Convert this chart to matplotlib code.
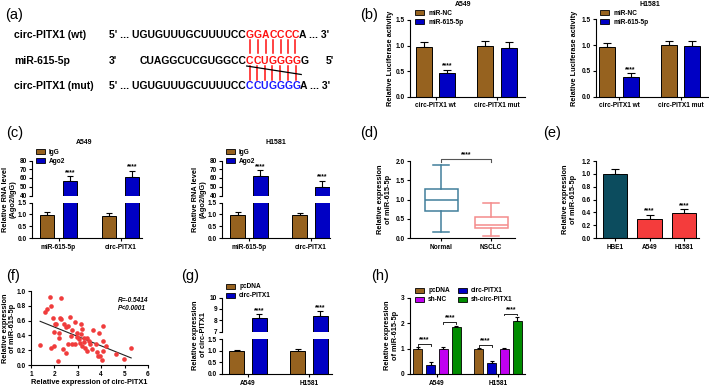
import numpy as np
import matplotlib
matplotlib.use('Agg')
import matplotlib.pyplot as plt
from matplotlib.patches import Patch
from matplotlib.ticker import FormatStrFormatter

W, H = 709, 390
plt.rcParams['font.family'] = ['Liberation Sans', 'DejaVu Sans']
plt.rcParams['font.weight'] = 'bold'
plt.rcParams['axes.labelweight'] = 'bold'
plt.rcParams['axes.linewidth'] = 0.8
for a in ('xtick', 'ytick'):
    plt.rcParams[a + '.major.width'] = 0.8
    plt.rcParams[a + '.major.size'] = 2.5
    plt.rcParams[a + '.labelsize'] = 4.7
plt.rcParams['xtick.major.pad'] = 1.5
plt.rcParams['ytick.major.pad'] = 1.0

LAB, STAR, LEG, TITLE = 5.3, 4.8, 4.7, 5.0
BROWN = '#96621f'; BLUE = '#0000c4'; MAGENTA = '#c000f0'; GREEN = '#008c00'
TEAL = '#0c4c5e'; RED = '#f43c3c'; NORM_C = '#417f9b'; NSCLC_C = '#f48c8c'; SCAT = '#f03c3c'

# ---------------- data ----------------
b_groups = ['circ-PITX1 wt', 'circ-PITX1 mut']
b_series = ['miR-NC', 'miR-615-5p']
b_a549_nc = [0.98, 0.99]; b_a549_nc_err = [0.09, 0.09]
b_a549_mir = [0.47, 0.96]; b_a549_mir_err = [0.06, 0.10]
b_h1581_nc = [0.97, 1.00]; b_h1581_nc_err = [0.08, 0.07]
b_h1581_mir = [0.38, 0.99]; b_h1581_mir_err = [0.07, 0.09]

c_groups = ['miR-615-5p', 'circ-PITX1']
c_series = ['IgG', 'Ago2']
c_a549_igg = [0.98, 0.95]; c_a549_igg_err = [0.10, 0.10]
c_a549_ago2 = [56.5, 61.5]; c_a549_ago2_err = [6.0, 7.0]
c_h1581_igg = [0.99, 0.99]; c_h1581_igg_err = [0.09, 0.07]
c_h1581_ago2 = [62.0, 49.5]; c_h1581_ago2_err = [7.0, 7.5]

d_groups = ['Normal', 'NSCLC']
d_whislo = [0.16, 0.04]
d_q1 = [0.71, 0.27]
d_med = [1.00, 0.35]
d_q3 = [1.27, 0.54]
d_whishi = [1.90, 0.92]

e_cells = ['HBE1', 'A549', 'H1581']
e_mean = [1.00, 0.30, 0.39]
e_err = [0.07, 0.065, 0.065]

f_x = [1.80, 2.28, 1.87, 1.68, 1.61, 1.94, 2.26, 2.27, 2.67, 2.01, 2.08, 2.41, 2.86, 2.59, 3.13,
       1.98, 2.19, 2.48, 2.74, 2.96, 3.18, 3.65, 4.07, 3.90, 2.70, 2.96, 3.03, 3.15, 3.25, 3.39,
       3.47, 3.10, 3.17, 3.32, 2.88, 2.57, 2.77, 2.20, 1.39, 1.84, 1.98, 2.38, 2.49, 2.16, 3.54,
       3.76, 4.07, 4.22, 3.83, 3.97, 4.07, 3.87, 4.02, 4.65, 4.99, 5.28, 3.39, 3.61, 3.25]
f_y = [0.92, 0.90, 0.80, 0.76, 0.71, 0.63, 0.64, 0.62, 0.65, 0.55, 0.56, 0.56, 0.58, 0.53, 0.56,
       0.44, 0.43, 0.51, 0.47, 0.43, 0.48, 0.47, 0.53, 0.43, 0.39, 0.38, 0.35, 0.42, 0.37, 0.36,
       0.32, 0.30, 0.26, 0.23, 0.29, 0.29, 0.29, 0.36, 0.27, 0.23, 0.26, 0.22, 0.16, 0.05, 0.28,
       0.28, 0.33, 0.26, 0.18, 0.12, 0.19, 0.12, 0.07, 0.15, 0.08, 0.23, 0.19, 0.21, 0.31]
f_r_text = 'R=-0.5414'
f_p_text = 'P<0.0001'

g_groups = ['A549', 'H1581']
g_series = ['pcDNA', 'circ-PITX1']
g_pcdna = [0.97, 1.00]; g_pcdna_err = [0.08, 0.07]
g_circ = [8.20, 8.40]; g_circ_err = [0.35, 0.40]

h_groups = ['A549', 'H1581']
h_series = ['pcDNA', 'circ-PITX1', 'sh-NC', 'sh-circ-PITX1']
h_pcdna = [1.00, 0.97]; h_pcdna_err = [0.06, 0.05]
h_circ = [0.37, 0.45]; h_circ_err = [0.10, 0.07]
h_shnc = [1.00, 0.98]; h_shnc_err = [0.06, 0.05]
h_shcirc = [1.85, 2.08]; h_shcirc_err = [0.06, 0.16]

seq_wt = ['5\' ... UGUGUUUGCUUUUCC', 'GGACCCC', 'A ... 3\'']
seq_mir = ['CUAGGCUCGUGGCC', 'CCUGGGG', 'G']
seq_mut = ['5\' ... UGUGUUUGCUUUUCC', 'CCUGGGG', 'A ... 3\'']

# ---------------- figure ----------------
fig = plt.figure(figsize=(W / 100, H / 100), dpi=100)
ov = fig.add_axes([0, 0, 1, 1])
ov.set_xlim(0, W); ov.set_ylim(H, 0); ov.axis('off')
renderer = fig.canvas.get_renderer()


def axpx(l, t, r, b):
    ax = fig.add_axes([l / W, 1 - b / H, (r - l) / W, (b - t) / H])
    ax.spines['top'].set_visible(False)
    ax.spines['right'].set_visible(False)
    ax.tick_params(direction='out')
    ax.patch.set_alpha(0)
    return ax


def ylab(text, xc, yc):
    ov.text(xc, yc, text, rotation=90, ha='center', va='center', fontsize=LAB, linespacing=1.1)


def title(text, xc, yc):
    ov.text(xc, yc, text, ha='center', va='center', fontsize=TITLE)


def plabel(s, x, y):
    ov.text(x, y, s, fontsize=10.5, fontweight='normal', ha='left', va='center')


def errb(ax, x, y, e, cap):
    ax.errorbar(x, y, yerr=[np.zeros(len(e)), e], fmt='none', ecolor='k',
                elinewidth=0.8, capsize=cap, capthick=0.8, zorder=1)


def stars(ax, x, y):
    ax.text(x, y, '****', ha='center', va='bottom', fontsize=STAR, clip_on=False)


def leg(ax, colors, labels, x, y, ncol=1, colsp=1.0):
    hs = [Patch(facecolor=c, edgecolor='k', linewidth=0.6) for c in colors]
    ax.legend(hs, labels, loc='upper left', bbox_to_anchor=(x / W, 1 - y / H),
              bbox_transform=fig.transFigure, frameon=False, fontsize=LEG,
              handlelength=1.4, handleheight=0.75, handletextpad=0.6, labelspacing=0.3,
              borderpad=0, borderaxespad=0, ncol=ncol, columnspacing=colsp)


# ---------------- (a) sequences ----------------
plabel('(a)', 5, 15)
ROW = [35, 61, 86]
RED_X = 246
SEQ_FS = 7.5
for y, lab in zip(ROW, ['circ-PITX1 (wt)', 'miR-615-5p', 'circ-PITX1 (mut)']):
    ov.text(14, y, lab, fontsize=SEQ_FS, ha='left', va='center')


def seq_row(y, pieces, colcolor):
    ov.text(RED_X, y, pieces[0], fontsize=SEQ_FS, ha='right', va='center')
    x = RED_X
    centers = []
    for ch in pieces[1]:
        t = ov.text(x, y, ch, fontsize=SEQ_FS, ha='left', va='center', color=colcolor)
        w = t.get_window_extent(renderer).width
        centers.append(x + w / 2)
        x += w
    ov.text(x, y, pieces[2], fontsize=SEQ_FS, ha='left', va='center')
    return centers


c_wt = seq_row(ROW[0], seq_wt, '#ff1010')
ov.text(109, ROW[1], "3'", fontsize=SEQ_FS, ha='left', va='center')
c_mir = seq_row(ROW[1], seq_mir, '#ff1010')
ov.text(326, ROW[1], "5'", fontsize=SEQ_FS, ha='left', va='center')
c_mut = seq_row(ROW[2], seq_mut, '#1a1aff')
for cx in c_wt:
    ov.plot([cx, cx], [40, 53], color='#ff1010', lw=1.1)
for cx in c_mir:
    ov.plot([cx, cx], [66, 80], color='#ff1010', lw=1.1)
ov.plot([c_mir[0] - 3, c_mir[-1] + 5], [66, 74.5], color='k', lw=0.9)

# ---------------- (b) ----------------
plabel('(b)', 360, 15)


def pair_bars(ax, a, ae, b, be, ca, cb, off=0.19, w=0.26, cap=2.6):
    x = np.arange(len(a))
    ax.bar(x - off, a, w, color=ca, edgecolor='k', linewidth=0.7, zorder=2)
    ax.bar(x + off, b, w, color=cb, edgecolor='k', linewidth=0.7, zorder=2)
    errb(ax, x - off, a, ae, cap)
    errb(ax, x + off, b, be, cap)
    return x


for (l, r, t, b, nc, nce, mi, mie, tx, lx, ylx) in [
        (409.5, 525, 20, 96.7, b_a549_nc, b_a549_nc_err, b_a549_mir, b_a549_mir_err, 'A549', 415, 390),
        (596, 708, 19.3, 96.7, b_h1581_nc, b_h1581_nc_err, b_h1581_mir, b_h1581_mir_err, 'H1581', 600, 574)]:
    ax = axpx(l, t, r, b)
    gc = 435.5 if tx == 'A549' else 619
    sp = 61.5
    x = pair_bars(ax, nc, nce, mi, mie, BROWN, BLUE)
    ax.set_xlim((l - gc) / sp, (r - gc) / sp)
    ax.set_ylim(0, 1.5)
    ax.set_yticks([0, 0.5, 1.0, 1.5])
    ax.yaxis.set_major_formatter(FormatStrFormatter('%.1f'))
    ax.set_xticks(x)
    ax.set_xticklabels(b_groups)
    stars(ax, x[0] + 0.19, mi[0] + mie[0])
    leg(ax, [BROWN, BLUE], b_series, lx, 10)
    title(tx, 463 if tx == 'A549' else 650, 4.5)
    ylab('Relative Luciferase activity', ylx, 58)

# ---------------- (c) ----------------
plabel('(c)', 6, 133)


def broken_axes(l, r, tt, tb, bt, bb, toplim, topticks, botlim, botticks, xlim, topfmt, botfmt):
    axt = axpx(l, tt, r, tb)
    axb = axpx(l, bt, r, bb)
    for ax in (axt, axb):
        ax.set_xlim(xlim)
    axt.spines['bottom'].set_visible(False)
    axt.tick_params(axis='x', bottom=False, labelbottom=False)
    axt.set_ylim(toplim); axt.set_yticks(topticks)
    axb.set_ylim(botlim); axb.set_yticks(botticks)
    axt.yaxis.set_major_formatter(FormatStrFormatter(topfmt))
    axb.yaxis.set_major_formatter(FormatStrFormatter(botfmt))
    return axt, axb


for (l, r, gc, igg, igge, ago, agoe, tx, txx, lx, ylx) in [
        (32, 142, 58.5, c_a549_igg, c_a549_igg_err, c_a549_ago2, c_a549_ago2_err, 'A549', 84, 36, 9),
        (222, 330, 249, c_h1581_igg, c_h1581_igg_err, c_h1581_ago2, c_h1581_ago2_err, 'H1581', 276, 226, 199.5)]:
    sp = 62
    axt, axb = broken_axes(l, r, 160.5, 195.5, 202.5, 238, (40, 80), [40, 50, 60, 70, 80],
                           (0, 1.5), [0, 0.5, 1.0, 1.5], ((l - gc) / sp, (r - gc) / sp), '%d', '%.1f')
    for ax in (axt, axb):
        x = pair_bars(ax, igg, igge, ago, agoe, BROWN, BLUE, off=0.185, w=0.24, cap=2.4)
    axb.set_xticks(x)
    axb.set_xticklabels(c_groups)
    for i in range(2):
        stars(axt, x[i] + 0.185, ago[i] + agoe[i])
    leg(axt, [BROWN, BLUE], c_series, lx, 149)
    title(tx, txx, 143)
    ylab('Relative RNA level\n(Ago2/IgG)', ylx, 199)

# ---------------- (d) ----------------
plabel('(d)', 360, 133)
ax = axpx(409.5, 161, 515, 238)
stats = [dict(med=d_med[i], q1=d_q1[i], q3=d_q3[i], whislo=d_whislo[i],
              whishi=d_whishi[i], fliers=[]) for i in range(len(d_groups))]
bp = ax.bxp(stats, positions=[1, 2], widths=0.66, showfliers=False, patch_artist=True,
            capwidths=0.33)
for i, col in enumerate([NORM_C, NSCLC_C]):
    bp['boxes'][i].set(facecolor='white', edgecolor=col, linewidth=1.1)
    bp['medians'][i].set(color=col, linewidth=1.1)
    for k in (2 * i, 2 * i + 1):
        bp['whiskers'][k].set(color=col, linewidth=1.1)
        bp['caps'][k].set(color=col, linewidth=1.1)
ax.set_xlim(1 - 31.5 / 50, 2 + 24 / 50)
ax.set_ylim(0, 2.0)
ax.set_yticks([0, 0.5, 1.0, 1.5, 2.0])
ax.yaxis.set_major_formatter(FormatStrFormatter('%.1f'))
ax.set_xticks([1, 2])
ax.set_xticklabels(d_groups)
ax.plot([1, 1, 2, 2], [1.98, 2.05, 2.05, 1.98], color='#555555', lw=0.8, clip_on=False)
ax.text(1.5, 2.07, '****', ha='center', va='bottom', fontsize=STAR, clip_on=False)
ylab('Relative expression\nof miR-615-5p', 384.5, 199)

# ---------------- (e) ----------------
plabel('(e)', 543, 133)
ax = axpx(596, 161, 699, 238)
xe = np.arange(len(e_cells))
ax.bar(xe, e_mean, 0.7, color=[TEAL, RED, RED], edgecolor='k', linewidth=0.7, zorder=2)
errb(ax, xe, e_mean, e_err, 3.2)
ax.set_xlim(-19 / 34.5, 2 + 15 / 34.5)
ax.set_ylim(0, 1.2)
ax.set_yticks(np.arange(0, 1.21, 0.2))
ax.yaxis.set_major_formatter(FormatStrFormatter('%.1f'))
ax.set_xticks(xe)
ax.set_xticklabels(e_cells)
for i in (1, 2):
    stars(ax, xe[i], e_mean[i] + e_err[i])
ylab('Relative expression\nof miR-615-5p', 569.5, 199)

# ---------------- (f) ----------------
plabel('(f)', 6, 276)
ax = axpx(31, 291, 148, 365)
ax.scatter(f_x, f_y, s=11, color=SCAT, linewidths=0, clip_on=False, zorder=3)
k, b0 = np.polyfit(f_x, f_y, 1)
xx = np.array([min(f_x), max(f_x)])
ax.plot(xx, k * xx + b0, color='#222222', lw=0.8, zorder=2)
ax.set_xlim(1, 6)
ax.set_ylim(0, 1.0)
ax.set_xticks(range(1, 7))
ax.set_yticks(np.arange(0, 1.01, 0.2))
ax.yaxis.set_major_formatter(FormatStrFormatter('%.1f'))
ov.text(118, 301, f_r_text, fontsize=4.7, style='italic', ha='left', va='center')
ov.text(118, 308.5, f_p_text, fontsize=4.7, style='italic', ha='left', va='center')
ov.text(89.5, 382, 'Relative expression of circ-PITX1', fontsize=LAB, ha='center', va='center')
ylab('Relative expression\nof miR-615-5p', 9, 328)

# ---------------- (g) ----------------
plabel('(g)', 181, 276)
gc, sp = 248, 61
axt, axb = broken_axes(222, 332, 297.5, 331.5, 339, 374, (7, 10), [7, 8, 9, 10],
                       (0, 1.5), [0, 0.5, 1.0, 1.5], ((222 - gc) / sp, (332 - gc) / sp), '%d', '%.1f')
for ax in (axt, axb):
    x = pair_bars(ax, g_pcdna, g_pcdna_err, g_circ, g_circ_err, BROWN, BLUE, off=0.185, w=0.24, cap=2.4)
axb.set_xticks(x)
axb.set_xticklabels(g_groups)
for i in range(2):
    stars(axt, x[i] + 0.185, g_circ[i] + g_circ_err[i])
leg(axt, [BROWN, BLUE], g_series, 226, 283.5)
ylab('Relative expression\nof circ-PITX1', 199.5, 335)

# ---------------- (h) ----------------
plabel('(h)', 371, 276)
ax = axpx(409.5, 298, 525, 374)
xh = np.arange(len(h_groups))
step, wh = 0.213, 0.15
h_vals = [h_pcdna, h_circ, h_shnc, h_shcirc]
h_errs = [h_pcdna_err, h_circ_err, h_shnc_err, h_shcirc_err]
h_cols = [BROWN, BLUE, MAGENTA, GREEN]
for j in range(4):
    xs = xh + (j - 1.5) * step
    ax.bar(xs, h_vals[j], wh, color=h_cols[j], edgecolor='k', linewidth=0.6, zorder=2)
    errb(ax, xs, h_vals[j], h_errs[j], 1.6)
ax.set_xlim(-27.5 / 61, 1 + 27 / 61)
ax.set_ylim(0, 3)
ax.set_yticks([0, 1, 2, 3])
ax.set_xticks(xh)
ax.set_xticklabels(h_groups)


def bracket(ax, x1, x2, y, h=0.06):
    ax.plot([x1, x1, x2, x2], [y - h, y, y, y - h], color='k', lw=0.6)
    ax.text((x1 + x2) / 2, y + 0.02, '****', ha='center', va='bottom', fontsize=STAR)


for i in range(2):
    top1 = max(h_pcdna[i] + h_pcdna_err[i], h_circ[i] + h_circ_err[i])
    bracket(ax, xh[i] - 1.5 * step, xh[i] - 0.5 * step, top1 + 0.12)
    top2 = max(h_shnc[i] + h_shnc_err[i], h_shcirc[i] + h_shcirc_err[i])
    bracket(ax, xh[i] + 0.5 * step, xh[i] + 1.5 * step, top2 + 0.14)
# legend rows: (pcDNA, circ-PITX1) / (sh-NC, sh-circ-PITX1); matplotlib fills columns first
order = [0, 2, 1, 3]
leg(ax, [h_cols[i] for i in order], [h_series[i] for i in order], 415, 287.5, ncol=2, colsp=1.2)
ylab('Relative expression\nof miR-615-5p', 391.5, 335)

fig.savefig('out.png', dpi=100)
